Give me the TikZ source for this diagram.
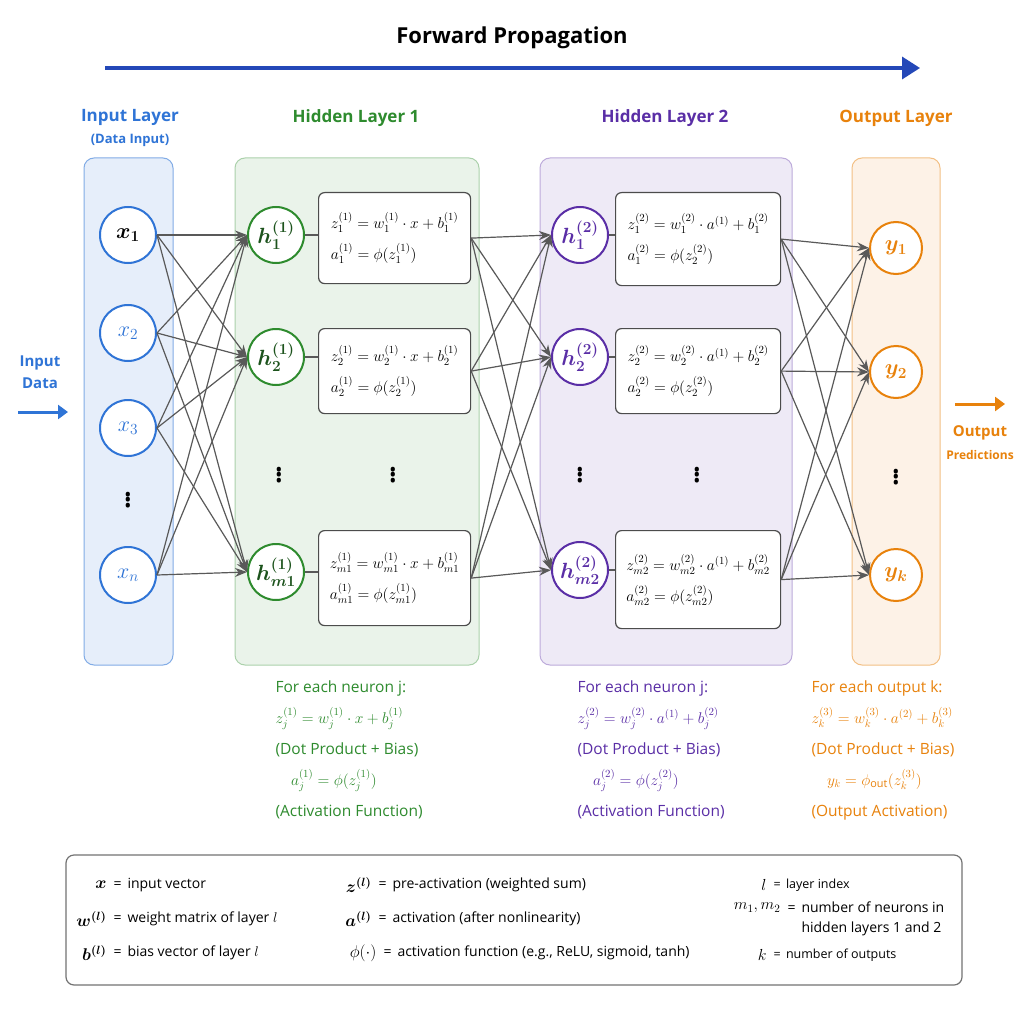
\RequirePackage{fix-cm}
\documentclass[tikz,border=0pt]{standalone}
\usepackage[no-math]{fontspec}
\setmainfont{Open Sans}
\usepackage{amsmath,bm}
\usetikzlibrary{arrows.meta}
\definecolor{tblue}{HTML}{2448B8}
\definecolor{iblue}{HTML}{2F74D6}
\definecolor{ggreen}{HTML}{2E8B2E}
\definecolor{ppurple}{HTML}{5A2EA6}
\definecolor{oorange}{HTML}{E8820C}
\tikzset{
 layerbox/.style={rounded corners=10pt, line width=1pt},
 neuron/.style={circle, draw, fill=white, line width=2pt, minimum size=56pt, inner sep=0pt, font=\fontsize{22}{24}\selectfont},
 eqbox/.style={draw=black!70, fill=white, rounded corners=6pt, line width=1.2pt, anchor=north west, minimum width=152pt, align=left, inner sep=6pt, font=\fontsize{15.5}{18}\selectfont},
 conn/.style={draw=black!65, line width=1.2pt, -{Stealth[length=12pt,width=9pt]}},
 dotsn/.style={font=\fontsize{36}{36}\selectfont, inner sep=0pt},
 lbl/.style={font=\bfseries\fontsize{17}{20}\selectfont},
 btxt/.style={anchor=north west, align=left, font=\fontsize{15.5}{31}\selectfont},
 lg/.style={font=\fontsize{14}{20}\selectfont},
}
\begin{document}
\begin{tikzpicture}[x=1pt,y=-1pt]
\useasboundingbox (0,0) rectangle (1024,1024);
\fill[white] (0,0) rectangle (1024,1024);
% title
\node[font=\bfseries\fontsize{22}{26}\selectfont] (title) at (512,38) {Forward Propagation};
\coordinate (fa) at (105,68); \coordinate (fb) at (920,68);
\draw[tblue, line width=3.5pt, -{Triangle[length=18pt,width=22pt]}] (fa) -- (fb);
% layer boxes
\draw[layerbox, draw=iblue!60, fill=iblue!12] (84,158) rectangle (173,665);
\draw[layerbox, draw=ggreen!40, fill=ggreen!10] (235,158) rectangle (479,665);
\draw[layerbox, draw=ppurple!40, fill=ppurple!10] (540,158) rectangle (792,665);
\draw[layerbox, draw=oorange!50, fill=oorange!10] (852,158) rectangle (940,665);
% labels
\node[lbl, text=iblue] (l0) at (130,117) {Input Layer};
\node[font=\bfseries\fontsize{13}{15}\selectfont, text=iblue] (l0b) at (130,140) {(Data Input)};
\node[lbl, text=ggreen] (l1) at (356,118) {Hidden Layer 1};
\node[lbl, text=ppurple] (l2) at (665,118) {Hidden Layer 2};
\node[lbl, text=oorange] (l3) at (896,118) {Output Layer};
% input data
\node[font=\bfseries\fontsize{15}{22}\selectfont, text=iblue, align=center] (ind) at (40,372) {Input\\Data};
\coordinate (ia) at (18,412); \coordinate (ib) at (68,412);
\draw[iblue, line width=3pt, -{Triangle[length=10pt,width=14pt]}] (ia) -- (ib);
\coordinate (oa) at (955,404); \coordinate (ob) at (1005,404);
\draw[oorange, line width=3pt, -{Triangle[length=10pt,width=14pt]}] (oa) -- (ob);
\node[font=\bfseries\fontsize{15}{18}\selectfont, text=oorange] (outl) at (980,433) {Output};
\node[font=\bfseries\fontsize{12}{14}\selectfont, text=oorange] (outp) at (980,455) {Predictions};
% input neurons
\node[neuron, draw=iblue, text=black] (x1) at (128,235) {$\bm{x_1}$};
\node[neuron, draw=iblue, text=iblue] (x2) at (128,333) {$x_2$};
\node[neuron, draw=iblue, text=iblue] (x3) at (128,428) {$x_3$};
\node[dotsn] (xd) at (128,497) {$\vdots$};
\node[neuron, draw=iblue, text=iblue] (xn) at (128,575) {$x_n$};
% hidden 1
\node[neuron, draw=ggreen, text=ggreen!60!black] (h1) at (276,235) {$\bm{h_1^{(1)}}$};
\node[neuron, draw=ggreen, text=ggreen!60!black] (h2) at (276,357) {$\bm{h_2^{(1)}}$};
\node[neuron, draw=ggreen, text=ggreen!60!black] (h3) at (276,572) {$\bm{h_{m1}^{(1)}}$};
\node[dotsn] (hd) at (279,472) {$\vdots$};
\node[dotsn] (hdb) at (393,472) {$\vdots$};
\node[eqbox, minimum height=91pt] (e1) at (318,192) {$z_1^{(1)} = w_1^{(1)}\cdot x + b_1^{(1)}$\\[10pt]$a_1^{(1)} = \phi(z_1^{(1)})$};
\node[eqbox, minimum height=85pt] (e2) at (318,328) {$z_2^{(1)} = w_2^{(1)}\cdot x + b_2^{(1)}$\\[10pt]$a_2^{(1)} = \phi(z_2^{(1)})$};
\node[eqbox, minimum height=95pt] (e3) at (318,530) {$z_{m1}^{(1)} = w_{m1}^{(1)}\cdot x + b_{m1}^{(1)}$\\[10pt]$a_{m1}^{(1)} = \phi(z_{m1}^{(1)})$};
\draw[black!65, line width=1.2pt] (h1) -- (e1.west|-h1); \draw[black!65, line width=1.2pt] (h2) -- (e2.west|-h2); \draw[black!65, line width=1.2pt] (h3) -- (e3.west|-h3);
% hidden 2
\node[neuron, draw=ppurple, text=ppurple] (g1) at (580,235) {$\bm{h_1^{(2)}}$};
\node[neuron, draw=ppurple, text=ppurple] (g2) at (580,357) {$\bm{h_2^{(2)}}$};
\node[neuron, draw=ppurple, text=ppurple] (g3) at (580,570) {$\bm{h_{m2}^{(2)}}$};
\node[dotsn] (gd) at (580,472) {$\vdots$};
\node[dotsn] (gdb) at (697,472) {$\vdots$};
\node[eqbox, minimum width=165pt, minimum height=93pt] (f1) at (615,192) {$z_1^{(2)} = w_1^{(2)}\cdot a^{(1)} + b_1^{(2)}$\\[10pt]$a_1^{(2)} = \phi(z_2^{(2)})$};
\node[eqbox, minimum width=165pt, minimum height=85pt] (f2) at (615,328) {$z_2^{(2)} = w_2^{(2)}\cdot a^{(1)} + b_2^{(2)}$\\[10pt]$a_2^{(2)} = \phi(z_2^{(2)})$};
\node[eqbox, minimum width=165pt, minimum height=98pt] (f3) at (615,530) {$z_{m2}^{(2)} = w_{m2}^{(2)}\cdot a^{(1)} + b_{m2}^{(2)}$\\[10pt]$a_{m2}^{(2)} = \phi(z_{m2}^{(2)})$};
\draw[black!65, line width=1.2pt] (g1) -- (f1.west|-g1); \draw[black!65, line width=1.2pt] (g2) -- (f2.west|-g2); \draw[black!65, line width=1.2pt] (g3) -- (f3.west|-g3);
% outputs
\node[neuron, draw=oorange, text=oorange, minimum size=52pt] (y1) at (896,248) {$\bm{y_1}$};
\node[neuron, draw=oorange, text=oorange, minimum size=52pt] (y2) at (896,372) {$\bm{y_2}$};
\node[dotsn] (yd) at (896,474) {$\vdots$};
\node[neuron, draw=oorange, text=oorange, minimum size=52pt] (y3) at (896,575) {$\bm{y_k}$};
% connections
\foreach \a in {x1,x2,x3,xn}{\foreach \b in {h1,h2,h3}{\draw[conn] (\a.east) -- (\b.west);}}
\foreach \a in {e1,e2,e3}{\foreach \b in {g1,g2,g3}{\draw[conn] (\a.east) -- (\b.west);}}
\foreach \a in {f1,f2,f3}{\foreach \b in {y1,y2,y3}{\draw[conn] (\a.east) -- (\b.west);}}
% bottom texts
\node[btxt, text=ggreen] (t1) at (272,677) {For each neuron j:\\$z_j^{(1)} = w_j^{(1)}\cdot x + b_j^{(1)}$\\(Dot Product + Bias)\\\quad$a_j^{(1)} = \phi(z_j^{(1)})$\\(Activation Function)};
\node[btxt, text=ppurple] (t2) at (574,677) {For each neuron j:\\$z_j^{(2)} = w_j^{(2)}\cdot a^{(1)} + b_j^{(2)}$\\(Dot Product + Bias)\\\quad$a_j^{(2)} = \phi(z_j^{(2)})$\\(Activation Function)};
\node[btxt, text=oorange] (t3) at (808,677) {For each output k:\\$z_k^{(3)} = w_k^{(3)}\cdot a^{(2)} + b_k^{(3)}$\\(Dot Product + Bias)\\\quad$y_k = \phi_{\text{out}}(z_k^{(3)})$\\(Output Activation)};
% legend
\draw[draw=black!55, fill=white, rounded corners=8pt, line width=1.2pt] (66,855) rectangle (962,985);
\begin{scope}[every node/.style={lg}]
\node[anchor=east, font=\fontsize{17}{20}\selectfont] (k1) at (110,885) {$\bm{x}$\hspace{8pt}}; \node[anchor=west] (d1) at (110,885) {=\, input vector};
\node[anchor=east, font=\fontsize{17}{20}\selectfont] (k2) at (110,919) {$\bm{w^{(l)}}$}; \node[anchor=west] (d2) at (110,919) {=\, weight matrix of layer $l$};
\node[anchor=east, font=\fontsize{17}{20}\selectfont] (k3) at (110,953) {$\bm{b^{(l)}}$}; \node[anchor=west] (d3) at (110,953) {=\, bias vector of layer $l$};
\node[anchor=east, font=\fontsize{17}{20}\selectfont] (k4) at (375,885) {$\bm{z^{(l)}}$}; \node[anchor=west] (d4) at (375,885) {=\, pre-activation (weighted sum)};
\node[anchor=east, font=\fontsize{17}{20}\selectfont] (k5) at (375,919) {$\bm{a^{(l)}}$}; \node[anchor=west] (d5) at (375,919) {=\, activation (after nonlinearity)};
\node[anchor=east, font=\fontsize{17}{20}\selectfont] (k6) at (380,953) {$\phi(\cdot)$}; \node[anchor=west] (d6) at (380,953) {=\, activation function (e.g., ReLU, sigmoid, tanh)};
\node[anchor=east, font=\fontsize{16}{20}\selectfont] (k7) at (770,885) {$l$}; \node[anchor=west, font=\fontsize{12.5}{15}\selectfont] (d7) at (770,885) {=\, layer index};
\node[anchor=east, font=\fontsize{16}{20}\selectfont] (k8) at (784,908) {$m_1, m_2$}; \node[anchor=west, align=left] (d8) at (784,919) {=\, number of neurons in\\\phantom{=\,} hidden layers 1 and 2};
\node[anchor=east, font=\fontsize{16}{20}\selectfont] (k9) at (770,955) {$k$}; \node[anchor=west, font=\fontsize{12.5}{15}\selectfont] (d9) at (770,955) {=\, number of outputs};
\end{scope}
\end{tikzpicture}
\end{document}
